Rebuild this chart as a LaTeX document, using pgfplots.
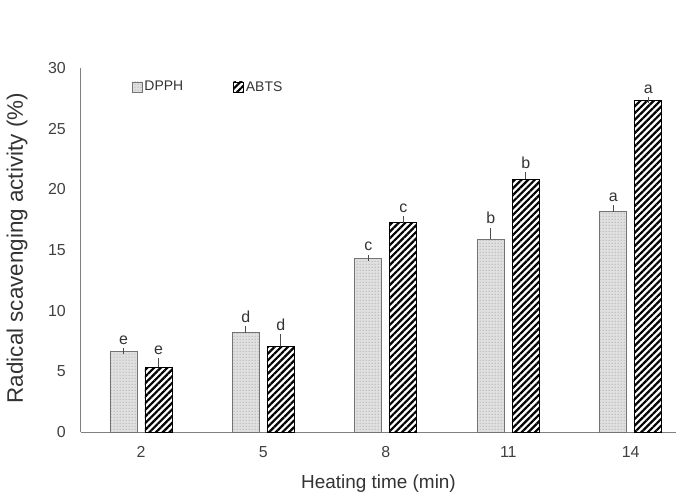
\documentclass[border=0pt]{standalone}
\usepackage{fontspec}
\setmainfont{Liberation Sans}
\usepackage{pgfplots}
\pgfplotsset{compat=1.18}
\usepackage{pgfplotstable}
\usetikzlibrary{patterns.meta}

% mean, standard deviation and significance letter per heating time
\pgfplotstableread{
x y err lbl
0 6.60 0.10 e
1 8.20 0.30 d
2 14.30 0.08 c
3 15.90 0.70 b
4 18.15 0.28 a
}\dpph
\pgfplotstableread{
x y err lbl
0 5.35 0.52 e
1 7.05 0.80 d
2 17.25 0.30 c
3 20.85 0.33 b
4 27.30 0.06 a
}\abts

\newcommand{\tickfont}{\fontsize{16}{18}\selectfont}
\newcommand{\legfont}{\fontsize{14}{16}\selectfont}
\newcommand{\xlabfont}{\fontsize{19}{21}\selectfont}
\newcommand{\ylabfont}{\fontsize{22.5}{24}\selectfont}

\pgfplotsset{
  sderr/.style={
    error bars/y dir=plus, error bars/y explicit,
    error bars/error bar style={draw=black!70, line width=0.9bp, solid},
    error bars/error mark options={draw=black!70, line width=0.9bp, mark size=3bp},
  },
  sqlegend/.style={
    legend image code/.code={\draw[##1, line width=0.7bp] (0bp,-5bp) rectangle (10bp,5bp);}
  },
}

\begin{document}
\begin{tikzpicture}
\begin{axis}[
  scale only axis, width=595bp, height=364bp,
  at={(0,0)}, anchor=south west,
  ymin=0, ymax=30, ytick={0,5,...,30},
  xmin=-0.49, xmax=4.37,
  xtick={0,...,4}, xticklabels={2,5,8,11,14},
  axis x line*=bottom, axis y line*=left,
  major tick length=0pt,
  axis line style={draw=black!50, line width=1bp},
  ybar=8bp, bar width=27bp,
  tick label style={font=\tickfont, text=black!75, inner sep=4bp},
  xticklabel style={yshift=-10bp},
  yticklabel style={xshift=-11bp},
  /pgf/number format/assume math mode=true,
  xlabel={Heating time (min)},
  ylabel={Radical scavenging activity (\%)},
  xlabel style={font=\xlabfont, text=black!80,
    at={([yshift=-56bp]axis description cs:0.5,0)}, anchor=base},
  ylabel style={font=\ylabfont, text=black!80,
    at={([xshift=-58bp]axis description cs:0,0.505)}, anchor=base},
  legend style={at={(0.08,0.975)}, anchor=north west, draw=none, fill=none,
    font=\legfont, text=black!80, legend columns=2,
    /tikz/every even column/.append style={column sep=48bp}},
  nodes near coords,
  point meta=explicit symbolic,
  visualization depends on={\thisrow{err} \as \err},
  every node near coord/.append style={font=\tickfont, text=black!80,
    inner sep=3bp, yshift=\err*12.133bp+3bp},
]
\addplot+[fill=black!12, draw=black!55, line width=0.9bp,
  postaction={pattern={Dots[distance=3bp, radius=0.5bp]}, pattern color=black!45},
  sqlegend, sderr]
  table[x=x, y=y, y error=err, meta=lbl] {\dpph};
\addlegendentry{DPPH}
\addplot+[fill=white, draw=black, line width=0.9bp,
  postaction={pattern={Lines[angle=45, distance=4.7bp, line width=2.2bp]}, pattern color=black},
  sqlegend, sderr]
  table[x=x, y=y, y error=err, meta=lbl] {\abts};
\addlegendentry{ABTS}
\end{axis}
\path (-81bp,-58bp) rectangle (597bp,432bp);
\end{tikzpicture}
\end{document}
